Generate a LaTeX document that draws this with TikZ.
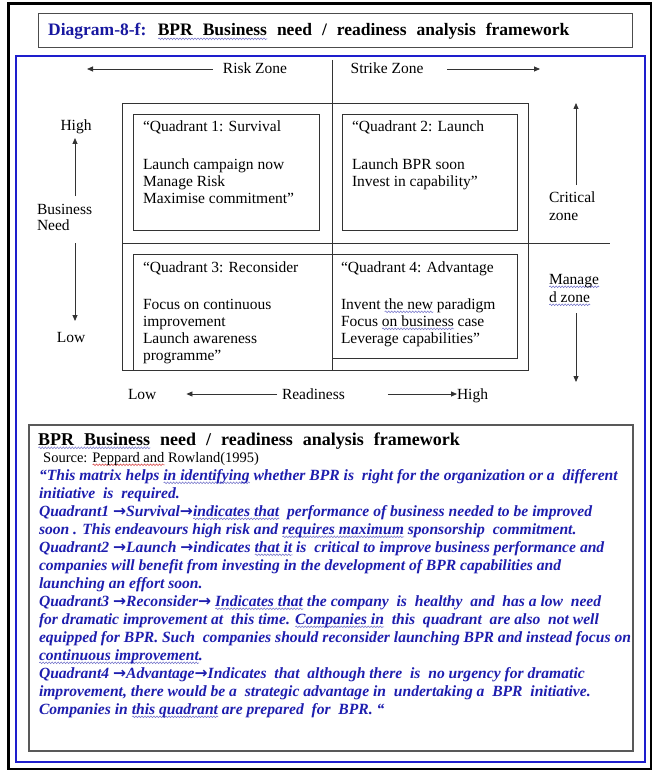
\documentclass[tikz,border=0pt]{standalone}
\usepackage{fontspec}
\setmainfont{Liberation Serif}
\newfontfamily\arrowfont{DejaVu Sans}
\usetikzlibrary{arrows.meta,decorations.pathmorphing}

\definecolor{inkblue}{RGB}{30,30,175}
\definecolor{titleblue}{RGB}{24,24,160}
\definecolor{frameblue}{RGB}{30,30,205}
\definecolor{wavecol}{RGB}{110,110,200}
\definecolor{wavered}{RGB}{215,60,60}

% proof-reading squiggles under words
\newsavebox\gbox
\newdimen\gwd
\newcommand\wavyline[2]{\sbox\gbox{#2}\gwd=\wd\gbox\rlap{\tikz[x=1pt,y=1pt,baseline=0pt]{\draw[#1,line width=0.5pt,decorate,decoration={snake,amplitude=0.85pt,segment length=3pt}] (0pt,-2.8pt) -- (\the\gwd,-2.8pt);}}\usebox\gbox}
\newcommand\gram[1]{\wavyline{wavecol}{#1}}
\newcommand\gramred[1]{\wavyline{wavered}{#1}}
\newcommand\qarrow{{\arrowfont\bfseries →}}

\tikzset{
  lbl/.style={font=\fontsize{15.5}{17}\selectfont, inner sep=0pt, outer sep=0pt, anchor=base west},
  clbl/.style={lbl, anchor=base},
  para/.style={font=\fontsize{15.6}{18}\selectfont\bfseries\itshape, text=inkblue, inner sep=0pt, outer sep=0pt, anchor=base west},
  quadbox/.style={draw=black!80, line width=0.8pt},
  arr/.style={draw=black!80, line width=0.8pt, -{Triangle[length=6pt,width=5pt]}},
}

\begin{document}
\begin{tikzpicture}[x=1pt,y=-1pt]
  \useasboundingbox[fill=white] (0,0) rectangle (652,770);

  % frames
  \draw[line width=3pt, black] (8,4) rectangle (651,769);
  \draw[line width=2pt, frameblue] (16,56) rectangle (645,762);
  \draw[line width=1pt, black!70] (38,14) rectangle (632,48);

  % title
  \node[anchor=base west, inner sep=0pt, font={\fontsize{17.5}{20}\selectfont\bfseries\spaceskip=10pt\relax}] (title) at (48,36)
    {\textcolor{titleblue}{Diagram-8-f:} \gram{BPR Business} need / readiness analysis framework};

  % matrix
  \draw[quadbox] (122,103) rectangle (528,370);
  \draw[quadbox] (133,114) rectangle (319,230);
  \draw[quadbox] (342,114) rectangle (517,230);
  \draw[quadbox] (133,254) rectangle (332,370);
  \draw[quadbox] (332,254) rectangle (517,358);
  \coordinate (hl) at (122,243); \coordinate (hr) at (610,243);
  \coordinate (vt) at (332,60);  \coordinate (vb) at (332,370);
  \draw[quadbox] (hl) -- (hr);
  \draw[quadbox] (vt) -- (vb);

  % quadrant texts
  \node[lbl] (q1a) at (143,132) {“Quadrant 1: Survival};
  \node[lbl] (q1b) at (143,169) {Launch campaign now};
  \node[lbl] (q1c) at (143,186) {Manage Risk};
  \node[lbl] (q1d) at (143,203) {Maximise commitment”};

  \node[lbl] (q2a) at (352,132) {“Quadrant 2: Launch};
  \node[lbl] (q2b) at (352,169) {Launch BPR soon};
  \node[lbl] (q2c) at (352,186) {Invest in capability”};

  \node[lbl] (q3a) at (143,272) {“Quadrant 3: Reconsider};
  \node[lbl] (q3b) at (143,309) {Focus on continuous};
  \node[lbl] (q3c) at (143,326) {improvement};
  \node[lbl] (q3d) at (143,343) {Launch awareness};
  \node[lbl] (q3e) at (143,360) {programme”};

  \node[lbl] (q4a) at (341,272) {“Quadrant 4: Advantage};
  \node[lbl] (q4b) at (341,309) {Invent \gram{the new} paradigm};
  \node[lbl] (q4c) at (341,326) {Focus \gram{on business} case};
  \node[lbl] (q4d) at (341,343) {Leverage capabilities”};

  % top zone labels
  \node[clbl] (risk) at (255,74) {Risk Zone};
  \node[clbl] (strike) at (387,74) {Strike Zone};
  \coordinate (riskend) at (87,69);
  \coordinate (strikeend) at (540,69);
  \draw[arr] ([xshift=-10pt,yshift=5pt]risk.base west) -- (riskend);
  \draw[arr] ([xshift=24pt,yshift=5pt]strike.base east) -- (strikeend);

  % business need axis
  \node[clbl] (bnhigh) at (76,131) {High};
  \node[lbl] (bn1) at (37,214) {Business};
  \node[lbl] (bn2) at (37,230) {Need};
  \node[clbl] (bnlow) at (71,342) {Low};
  \coordinate (upst) at (75,196); \coordinate (upend) at (75,138);
  \coordinate (dnst) at (75,243); \coordinate (dnend) at (75,321);
  \draw[arr] (upst) -- (upend);
  \draw[arr] (dnst) -- (dnend);

  % zone labels on the right
  \node[lbl] (crit1) at (549,202) {Critical};
  \node[lbl] (crit2) at (549,220) {zone};
  \node[lbl] (man1) at (549,284) {\gram{Manage}};
  \node[lbl] (man2) at (549,302) {\gram{d zone}};
  \coordinate (cst) at (576,185); \coordinate (cend) at (576,103);
  \coordinate (mst) at (576,313); \coordinate (mend) at (576,382);
  \draw[arr] (cst) -- (cend);
  \draw[arr] (mst) -- (mend);

  % readiness axis
  \node[lbl] (rlow) at (128,399) {Low};
  \node[lbl] (rmid) at (282,399) {Readiness};
  \node[lbl] (rhigh) at (457,399) {High};
  \draw[arr] ([xshift=-5pt,yshift=5pt]rmid.base west) -- ([xshift=30pt,yshift=5pt]rlow.base east);
  \draw[arr] ([xshift=43pt,yshift=5pt]rmid.base east) -- ([yshift=5pt]rhigh.base west);

  % explanation box
  \draw[line width=1.2pt, black!65] (29,425) rectangle (633,751);
  \node[anchor=base west, inner sep=0pt, font={\fontsize{18}{20}\selectfont\bfseries\spaceskip=10pt\relax}] (head) at (38,445)
    {\gram{BPR Business} need / readiness analysis framework};
  \node[anchor=base west, inner sep=0pt, font=\fontsize{14.5}{17}\selectfont] (src) at (43,462)
    {Source: \gramred{Peppard and} Rowland(1995)};

  \node[para] (p1)  at (39,480) {“This matrix helps \gram{in identifying} whether BPR is\ \ right for the organization or a\ \ different};
  \node[para] (p2)  at (39,498) {initiative\ \ is\ \ required.};
  \node[para] (p3)  at (39,516) {Quadrant1 \qarrow Survival\qarrow\gram{indicates that}\ \ performance of business needed to be improved};
  \node[para] (p4)  at (39,534) {soon . This endeavours high risk and \gram{requires maximum} sponsorship\ \ commitment.};
  \node[para] (p5)  at (39,552) {Quadrant2 \qarrow Launch \qarrow indicates \gram{that it} is\ \ critical to improve business performance and};
  \node[para] (p6)  at (39,570) {companies will benefit from investing in the development of BPR capabilities and};
  \node[para] (p7)  at (39,588) {launching an effort soon.};
  \node[para] (p8)  at (39,606) {Quadrant3 \qarrow Reconsider\qarrow\ \gram{Indicates that} the company\ \ is\ \ healthy\ \ and\ \ has a low\ \ need};
  \node[para] (p9)  at (39,624) {for dramatic improvement at\ \ this time. \gram{Companies in}\ \ this\ \ quadrant\ \ are also\ \ not well};
  \node[para] (p10) at (39,642) {equipped for BPR. Such\ \ companies should reconsider launching BPR and instead focus on};
  \node[para] (p11) at (39,660) {\gram{continuous improvement}.};
  \node[para] (p12) at (39,678) {Quadrant4 \qarrow Advantage\qarrow Indicates\ \ that\ \ although there\ \ is\ \ no urgency for dramatic};
  \node[para] (p13) at (39,696) {improvement, there would be a\ \ strategic advantage in\ \ undertaking a\ \ BPR\ \ initiative.};
  \node[para] (p14) at (39,714) {Companies in \gram{this quadrant} are prepared\ \ for\ \ BPR. “};
\end{tikzpicture}
\end{document}
